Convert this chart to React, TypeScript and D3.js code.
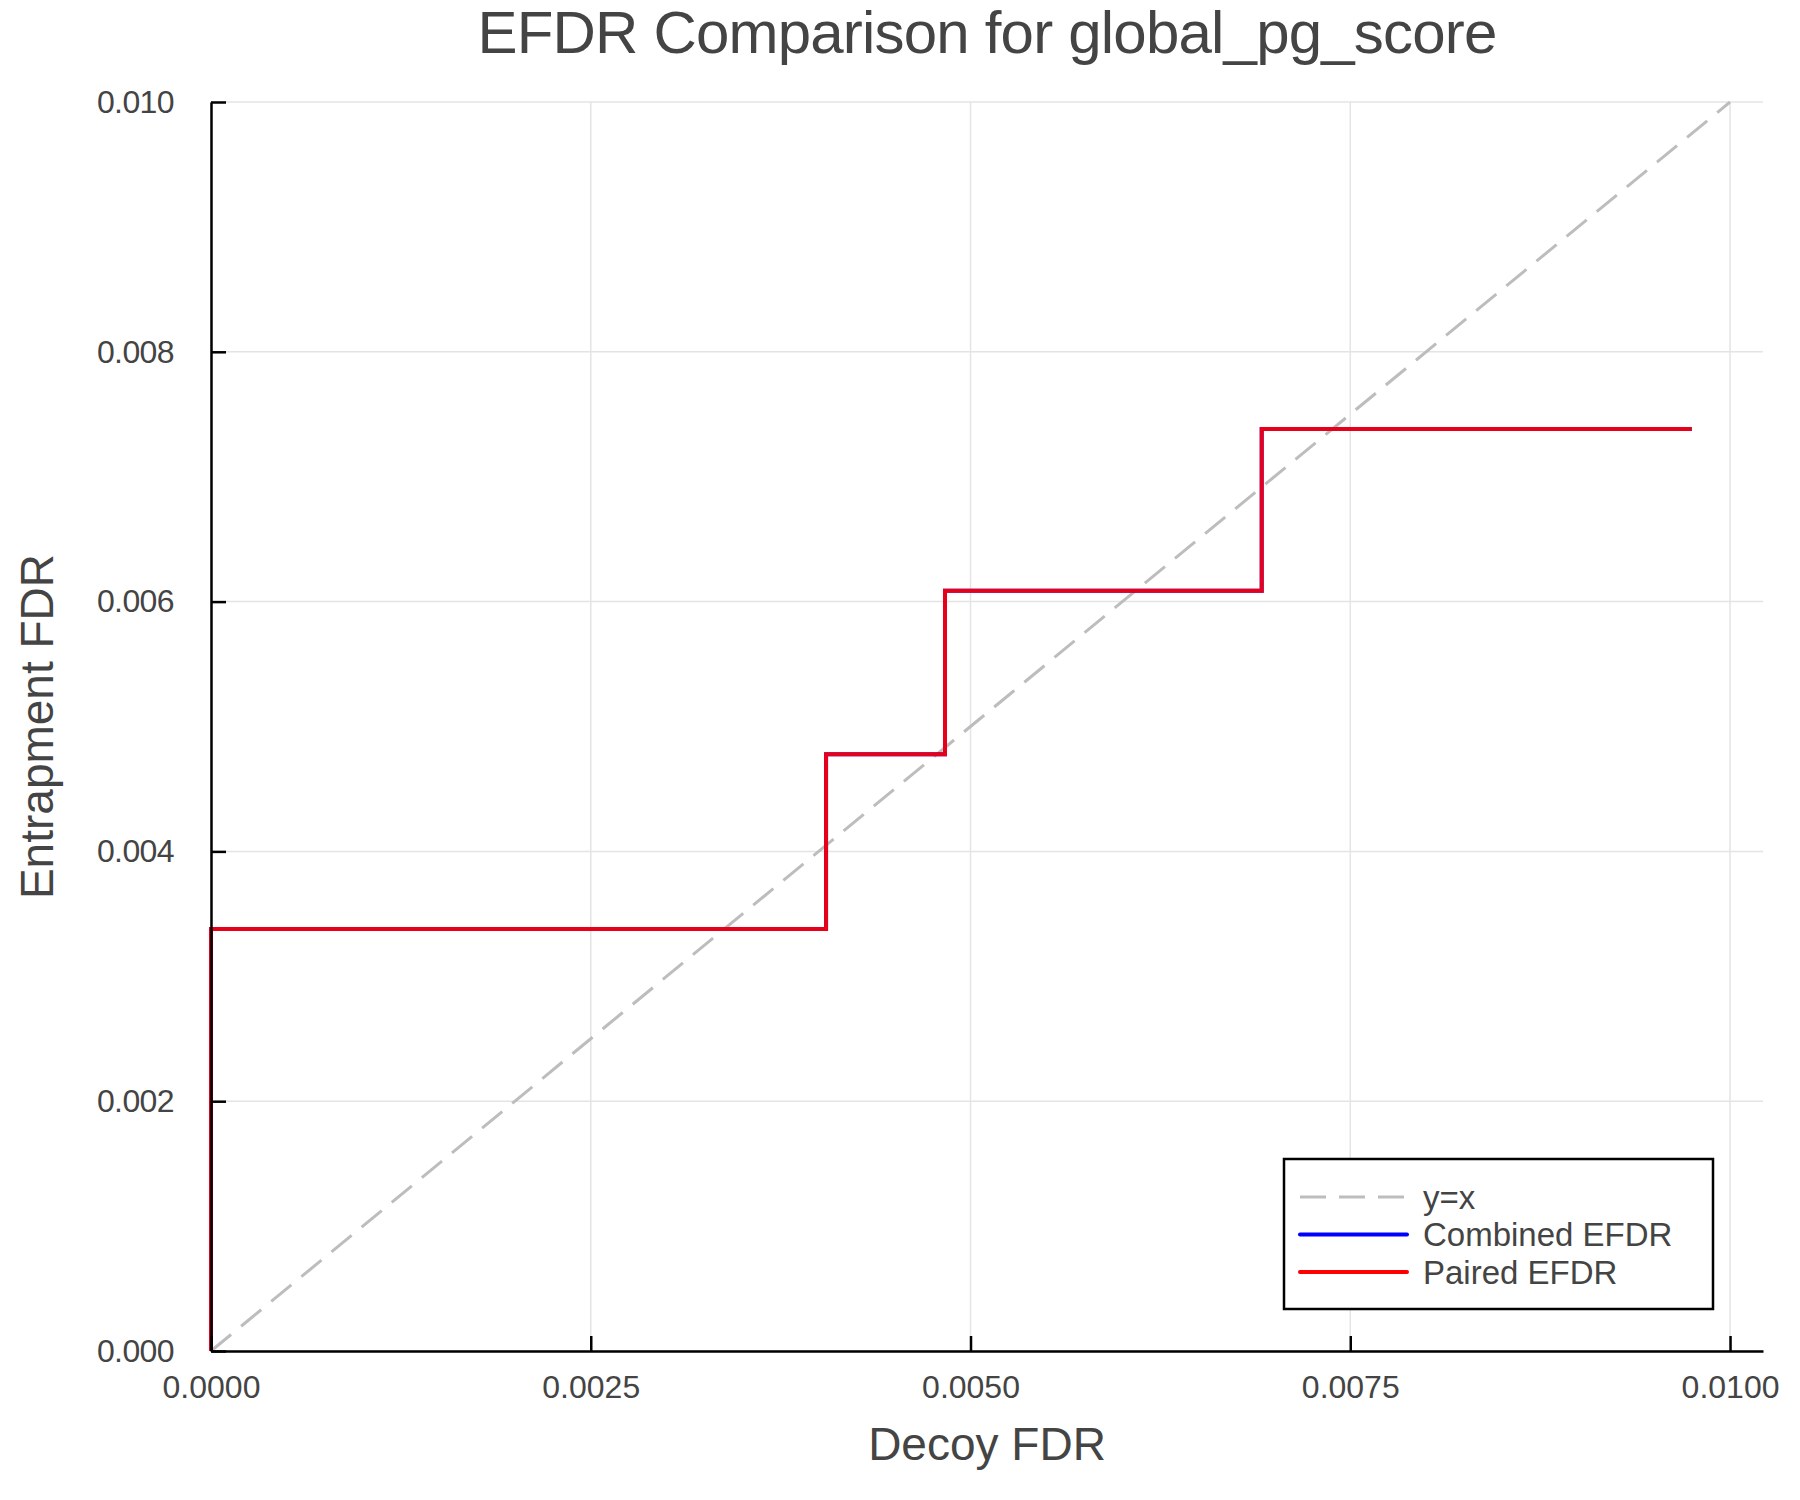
import { useRef, useEffect } from 'react';
import * as d3 from 'd3';

// values
const decoyFdr = [0, 0, 0.004049, 0.004832, 0.006917, 0.009748];
const combinedEfdr = [0, 0.003379, 0.004777, 0.006087, 0.007382, 0.007382];
const pairedEfdr = [0, 0.003379, 0.004777, 0.006087, 0.007382, 0.007382];
const diagonal = [0, 0.01];

const xTicks = [0, 0.0025, 0.005, 0.0075, 0.01];
const yTicks = [0, 0.002, 0.004, 0.006, 0.008, 0.01];

const legendItems = [
  { label: 'y=x', color: '#bdbdbd', dash: '26 13' },
  { label: 'Combined EFDR', color: '#0000ff', dash: null },
  { label: 'Paired EFDR', color: '#ff0000', dash: null },
];

const FONT = '"Liberation Sans", Arial, Helvetica, sans-serif';
const TEXT = '#444444';

export default function App() {
  const svgRef = useRef<SVGSVGElement>(null);

  useEffect(() => {
    const svg = d3.select(svgRef.current);
    svg.selectAll('*').remove();

    const W = 1800, H = 1500;
    const left = 211, right = 1763, top = 102, bottom = 1351;

    svg.append('rect').attr('width', W).attr('height', H).attr('fill', '#fff');

    const x = d3.scaleLinear().domain([0, 0.010217]).range([left, right]);
    const y = d3.scaleLinear().domain([0, 0.01]).range([bottom, top]);

    // grid
    const grid = svg.append('g').attr('stroke', '#e4e4e4').attr('stroke-width', 1.5);
    grid.selectAll('line.gx').data(xTicks).join('line')
      .attr('x1', d => x(d)).attr('x2', d => x(d))
      .attr('y1', top).attr('y2', bottom);
    grid.selectAll('line.gy').data(yTicks).join('line')
      .attr('class', 'gy')
      .attr('x1', left).attr('x2', right)
      .attr('y1', d => y(d)).attr('y2', d => y(d));

    // y = x reference
    const diag = d3.line<number>().x(d => x(d)).y(d => y(d));
    svg.append('path')
      .datum(diagonal)
      .attr('d', diag)
      .attr('fill', 'none')
      .attr('stroke', '#bdbdbd')
      .attr('stroke-width', 3)
      .attr('stroke-dasharray', '26 13');

    // step curves (combined sits under paired)
    const step = d3.line<number>()
      .x((_, i) => x(decoyFdr[i]))
      .y(d => y(d))
      .curve(d3.curveStepAfter);

    svg.append('path')
      .datum(combinedEfdr)
      .attr('d', step)
      .attr('fill', 'none')
      .attr('stroke', '#0000ff')
      .attr('stroke-width', 4);

    svg.append('path')
      .datum(pairedEfdr)
      .attr('d', step)
      .attr('fill', 'none')
      .attr('stroke', '#ff0000')
      .attr('stroke-opacity', 0.9)
      .attr('stroke-width', 4);

    // axes
    const xAxis = svg.append('g')
      .attr('transform', `translate(0,${bottom})`)
      .call(d3.axisBottom(x).tickValues(xTicks).tickFormat(d3.format('.4f') as any)
        .tickSizeInner(-15).tickSizeOuter(0).tickPadding(24));
    xAxis.selectAll('line,path').attr('stroke', '#000').attr('stroke-width', 2.5);
    xAxis.selectAll('text').attr('fill', TEXT).style('font-size', '32px').style('font-family', FONT);

    const yAxis = svg.append('g')
      .attr('transform', `translate(${left},0)`)
      .call(d3.axisLeft(y).tickValues(yTicks).tickFormat(d3.format('.3f') as any)
        .tickSizeInner(-15).tickSizeOuter(0).tickPadding(37));
    yAxis.selectAll('line,path').attr('stroke', '#000').attr('stroke-width', 2.5);
    yAxis.selectAll('text').attr('fill', TEXT).style('font-size', '32px').style('font-family', FONT)
      .style('letter-spacing', '-0.6px');

    // title + axis labels
    svg.append('text')
      .attr('x', (left + right) / 2).attr('y', 53)
      .attr('text-anchor', 'middle')
      .attr('fill', TEXT)
      .style('font-family', FONT).style('font-size', '60px').style('letter-spacing', '-0.8px')
      .text('EFDR Comparison for global_pg_score');

    svg.append('text')
      .attr('x', (left + right) / 2).attr('y', 1460)
      .attr('text-anchor', 'middle')
      .attr('fill', TEXT)
      .style('font-family', FONT).style('font-size', '46px')
      .text('Decoy FDR');

    svg.append('text')
      .attr('transform', `translate(53,${(top + bottom) / 2}) rotate(-90)`)
      .attr('text-anchor', 'middle')
      .attr('fill', TEXT)
      .style('font-family', FONT).style('font-size', '46px')
      .text('Entrapment FDR');

    // legend
    const lg = svg.append('g');
    lg.append('rect')
      .attr('x', 1284).attr('y', 1159)
      .attr('width', 429).attr('height', 150)
      .attr('fill', '#fff').attr('stroke', '#000').attr('stroke-width', 2.5);

    const rows = lg.selectAll('g.row').data(legendItems).join('g')
      .attr('transform', (_, i) => `translate(0,${1197 + i * 37.5})`);
    rows.append('line')
      .attr('x1', 1300).attr('x2', 1407)
      .attr('stroke', d => d.color)
      .attr('stroke-width', d => (d.dash ? 3 : 4))
      .attr('stroke-linecap', d => (d.dash ? 'butt' : 'round'))
      .attr('stroke-dasharray', d => d.dash);
    rows.append('text')
      .attr('x', 1423).attr('dy', '0.35em')
      .attr('fill', TEXT)
      .style('font-family', FONT).style('font-size', '33px')
      .text(d => d.label);
  }, []);

  return (
    <svg
      ref={svgRef}
      width={1800}
      height={1500}
      style={{ position: 'absolute', left: 0, top: 0, display: 'block' }}
    />
  );
}
